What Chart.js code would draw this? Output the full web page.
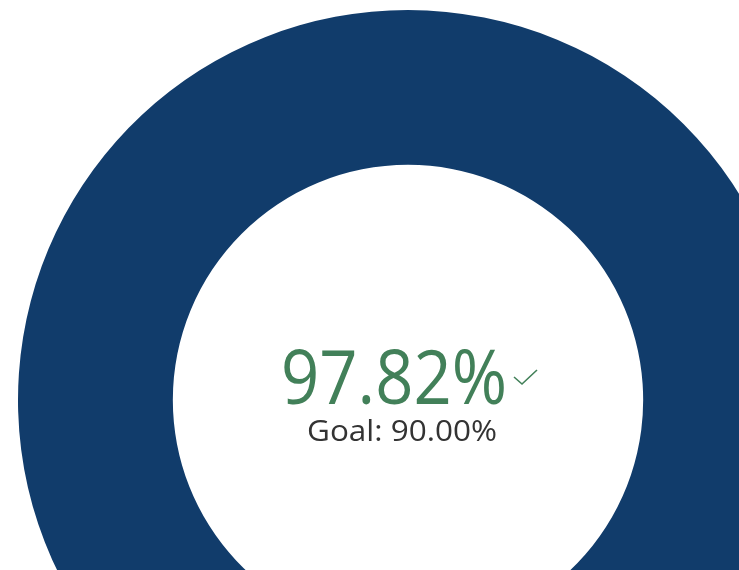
<!DOCTYPE html>
<html>
<head>
<meta charset="utf-8">
<script src="https://cdn.jsdelivr.net/npm/chart.js@4"></script>
<style>
  html, body { margin: 0; padding: 0; background: #fff; overflow: hidden; }
  body { width: 739px; height: 570px; position: relative; }
  #wrap { position: absolute; left: 18px; top: 10px; width: 780px; height: 780px; }
</style>
</head>
<body>
<div id="wrap"><canvas id="gaugeChart"></canvas></div>
<script>
  // values read from the card
  const labels = ['Actual', 'Remaining'];
  const values = [97.82, 2.18];
  const goalValue = 90.0;
  const colors = ['#113c6b', '#e6e6e6'];

  function fitText(ctx, text, x, y, width) {
    const w = ctx.measureText(text).width;
    ctx.save();
    ctx.translate(x, y);
    ctx.scale(width / w, 1);
    ctx.fillText(text, 0, 0);
    ctx.restore();
  }

  // center text drawn on top of the ring
  const centerText = {
    id: 'centerText',
    afterDraw: function (chart) {
      const ctx = chart.ctx;
      const arc = chart.getDatasetMeta(0).data[0];
      const cx = arc.x, cy = arc.y;
      ctx.save();
      ctx.textBaseline = 'alphabetic';
      ctx.textAlign = 'center';

      ctx.fillStyle = '#428059';
      ctx.font = '500 75px "Open Sans", sans-serif';
      fitText(ctx, values[0].toFixed(2) + '%', cx - 14, cy + 4, 226);

      // check mark
      ctx.strokeStyle = '#428059';
      ctx.lineWidth = 1.6;
      ctx.beginPath();
      ctx.moveTo(cx + 106, cy - 23);
      ctx.lineTo(cx + 114, cy - 16);
      ctx.lineTo(cx + 129, cy - 30);
      ctx.stroke();

      ctx.fillStyle = '#333333';
      ctx.font = '29px "Open Sans", sans-serif';
      fitText(ctx, 'Goal: ' + goalValue.toFixed(2) + '%', cx - 6, cy + 41, 190);
      ctx.restore();
    }
  };

  new Chart(document.getElementById('gaugeChart'), {
    type: 'doughnut',
    data: {
      labels: labels,
      datasets: [{
        data: values,
        backgroundColor: colors,
        borderWidth: 0,
      }],
    },
    options: {
      responsive: true,
      maintainAspectRatio: false,
      animation: false,
      cutout: '60.3%',
      rotation: 180 + values[1] * 1.8,
      plugins: {
        legend: { display: false },
        tooltip: { enabled: false },
      },
    },
    plugins: [centerText],
  });
</script>
</body>
</html>
